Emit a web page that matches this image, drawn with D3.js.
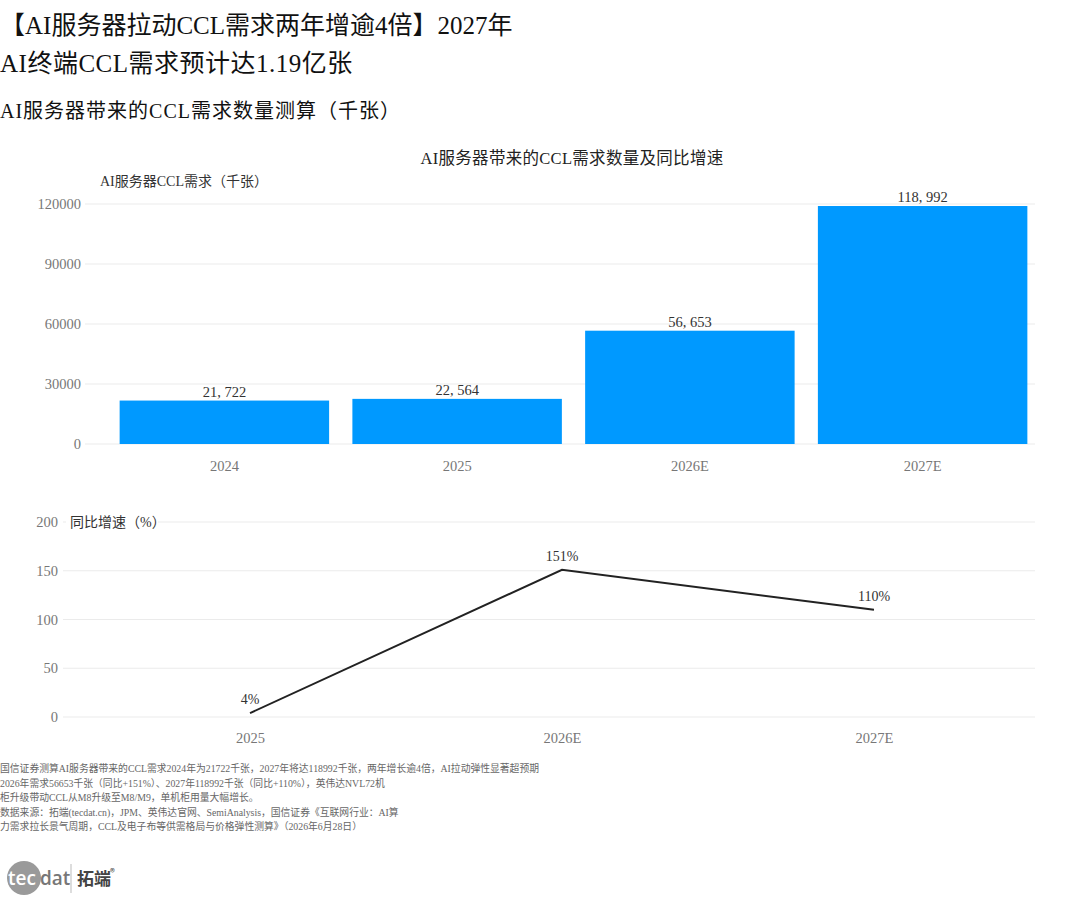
<!DOCTYPE html>
<html>
<head>
<meta charset="utf-8">
<script src="https://cdn.jsdelivr.net/npm/d3@7"></script>
<style>
  body { margin: 0; background: #fff; }
  svg text { font-family: "Liberation Serif", "Noto Sans CJK SC", serif; }
</style>
</head>
<body>
<svg id="chart" width="1080" height="900"></svg>
<script>
// data
const years = ["2024", "2025", "2026E", "2027E"];
const demand = [21722, 22564, 56653, 118992];
const demandTicks = [0, 30000, 60000, 90000, 120000];

const growthYears = ["2025", "2026E", "2027E"];
const growth = [4, 151, 110];
const growthTicks = [0, 50, 100, 150, 200];

const titleLines = ["【AI服务器拉动CCL需求两年增逾4倍】2027年", "AI终端CCL需求预计达1.19亿张"];
const subTitle = "AI服务器带来的CCL需求数量测算（千张）";
const chartTitle = "AI服务器带来的CCL需求数量及同比增速";
const notes = [
  "国信证券测算AI服务器带来的CCL需求2024年为21722千张，2027年将达118992千张，两年增长逾4倍，AI拉动弹性显著超预期",
  "2026年需求56653千张（同比+151%）、2027年118992千张（同比+110%），英伟达NVL72机",
  "柜升级带动CCL从M8升级至M8/M9，单机柜用量大幅增长。",
  "数据来源：拓端(tecdat.cn)，JPM、英伟达官网、SemiAnalysis，国信证券《互联网行业：AI算",
  "力需求拉长景气周期，CCL及电子布等供需格局与价格弹性测算》（2026年6月28日）"
];

const svg = d3.select("#chart");

// headings
svg.selectAll(".title").data(titleLines).enter().append("text")
  .attr("x", 0).attr("y", (d, i) => 34 + i * 38)
  .attr("font-size", 25).attr("fill", "#111")
  .attr("letter-spacing", (d, i) => i === 1 ? 0.5 : 0)
  .text(d => d);
svg.append("text").attr("x", 0).attr("y", 118)
  .attr("font-size", 20).attr("letter-spacing", 1).attr("fill", "#111").text(subTitle);
svg.append("text").attr("x", 572).attr("y", 164).attr("text-anchor", "middle")
  .attr("font-size", 16.5).attr("letter-spacing", 0.3).attr("fill", "#222").text(chartTitle);

// bar panel
const x1 = d3.scaleBand().domain(years).range([108, 1039]).paddingInner(0.1).paddingOuter(0.05);
const y1 = d3.scaleLinear().domain([0, 120000]).range([444, 204]);

const g1 = svg.append("g");
g1.selectAll(".grid").data(demandTicks).enter().append("line")
  .attr("x1", 85).attr("x2", 1035)
  .attr("y1", d => y1(d)).attr("y2", d => y1(d))
  .attr("stroke", "#ebebeb");

g1.append("g").attr("transform", "translate(81,0)")
  .call(d3.axisLeft(y1).tickValues(demandTicks).tickSize(0).tickPadding(0).tickFormat(d3.format("d")))
  .call(a => a.select(".domain").remove())
  .call(a => a.selectAll("text").attr("font-size", 14.5).attr("fill", "#777")
    .style("font-family", "'Liberation Serif', serif"));

g1.append("g").attr("transform", "translate(0,458)")
  .call(d3.axisBottom(x1).tickSize(0).tickPadding(0))
  .call(a => a.select(".domain").remove())
  .call(a => a.selectAll("text").attr("font-size", 14.5).attr("fill", "#777").attr("dy", "0.9em")
    .style("font-family", "'Liberation Serif', serif"));

g1.append("text").attr("x", 100).attr("y", 186)
  .attr("font-size", 14).attr("fill", "#333").text("AI服务器CCL需求（千张）");

g1.selectAll(".bar").data(demand).enter().append("rect")
  .attr("x", (d, i) => x1(years[i])).attr("width", x1.bandwidth())
  .attr("y", d => y1(d)).attr("height", d => y1(0) - y1(d))
  .attr("fill", "#0099ff");

g1.selectAll(".val").data(demand).enter().append("text")
  .attr("x", (d, i) => x1(years[i]) + x1.bandwidth() / 2)
  .attr("y", d => y1(d) - 4).attr("text-anchor", "middle")
  .attr("font-size", 14.5).attr("fill", "#333")
  .text(d => d3.format(",")(d).replace(",", ", "));

// growth panel
const x2 = d3.scalePoint().domain(growthYears).range([94, 1030]).padding(0.5);
const y2 = d3.scaleLinear().domain([0, 200]).range([717, 522]);

const g2 = svg.append("g");
g2.selectAll(".grid").data(growthTicks).enter().append("line")
  .attr("x1", 63).attr("x2", 1035)
  .attr("y1", d => y2(d)).attr("y2", d => y2(d))
  .attr("stroke", "#ebebeb");

g2.append("g").attr("transform", "translate(58,0)")
  .call(d3.axisLeft(y2).tickValues(growthTicks).tickSize(0).tickPadding(0))
  .call(a => a.select(".domain").remove())
  .call(a => a.selectAll("text").attr("font-size", 14.5).attr("fill", "#777")
    .style("font-family", "'Liberation Serif', serif"));

g2.append("g").attr("transform", "translate(0,730)")
  .call(d3.axisBottom(x2).tickSize(0).tickPadding(0))
  .call(a => a.select(".domain").remove())
  .call(a => a.selectAll("text").attr("font-size", 14.5).attr("fill", "#777").attr("dy", "0.9em")
    .style("font-family", "'Liberation Serif', serif"));

g2.append("rect").attr("x", 66).attr("y", 512).attr("width", 92).attr("height", 20).attr("fill", "#fff");
g2.append("text").attr("x", 70).attr("y", 527)
  .attr("font-size", 14).attr("fill", "#333").text("同比增速（%）");

const line = d3.line().x((d, i) => x2(growthYears[i])).y(d => y2(d));
g2.append("path").datum(growth).attr("d", line)
  .attr("fill", "none").attr("stroke", "#222").attr("stroke-width", 2);

g2.selectAll(".val").data(growth).enter().append("text")
  .attr("x", (d, i) => x2(growthYears[i]))
  .attr("y", d => y2(d) - 9).attr("text-anchor", "middle")
  .attr("font-size", 14).attr("fill", "#333").text(d => d + "%");

// notes
svg.selectAll(".note").data(notes).enter().append("text")
  .attr("x", 0).attr("y", (d, i) => 772 + i * 14.5)
  .attr("font-size", 9.8).attr("fill", "#666").text(d => d);

// logo
const logo = svg.append("g");
logo.append("circle").attr("cx", 24).attr("cy", 878).attr("r", 17).attr("fill", "#9a9a9a");
logo.append("text").attr("x", 8).attr("y", 885).attr("font-size", 19).attr("fill", "#fff")
  .style("font-family", "'Open Sans', sans-serif").style("font-weight", 600).text("tec");
logo.append("text").attr("x", 40).attr("y", 885).attr("font-size", 19).attr("fill", "#777")
  .style("font-family", "'Open Sans', sans-serif").style("font-weight", 600).text("dat");
logo.append("line").attr("x1", 71).attr("x2", 71).attr("y1", 864).attr("y2", 893).attr("stroke", "#bbb");
logo.append("text").attr("x", 77).attr("y", 885).attr("font-size", 17).attr("fill", "#444")
  .style("font-family", "'Noto Sans CJK SC', sans-serif").style("font-weight", 700).text("拓端");
logo.append("text").attr("x", 110).attr("y", 876).attr("font-size", 10).attr("fill", "#444")
  .style("font-family", "'Noto Sans CJK SC', sans-serif").text("®");
</script>
</body>
</html>
